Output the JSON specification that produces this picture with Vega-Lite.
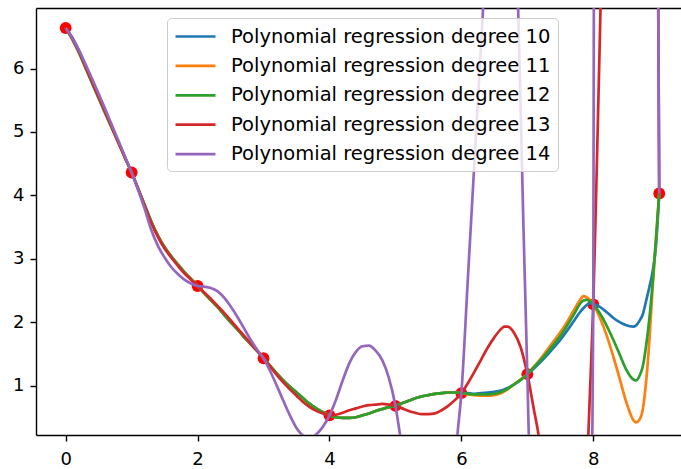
{
"$schema": "https://vega.github.io/schema/vega-lite/v6.json",
"width": 645, "height": 427,
"autosize": "none",
"padding": {"left": 36, "top": 8, "right": 0, "bottom": 34},
"config": {
  "view": {"stroke": null},
  "font": "DejaVu Sans",
  "axis": {"domainColor": "#000", "domainWidth": 1.4, "tickColor": "#000", "tickWidth": 1.4, "labelColor": "#000", "labelFontSize": 18, "grid": false, "title": null, "tickSize": 6, "labelPadding": 6}
},
"datasets": {
"pts": [
{"x":0,"y":6.64},{"x":1,"y":4.36},{"x":2,"y":2.57},{"x":3,"y":1.43},{"x":4,"y":0.53},
{"x":5,"y":0.68},{"x":6,"y":0.88},{"x":7,"y":1.18},{"x":8,"y":2.28},{"x":9,"y":4.03}
],
"curves": [
{"x":0.0,"d10":6.64,"d11":6.64,"d12":6.64,"d13":6.64,"d14":6.64},
{"x":0.1,"d10":6.49,"d11":6.47,"d12":6.46,"d13":6.47,"d14":6.48},
{"x":0.2,"d10":6.29,"d11":6.26,"d12":6.25,"d13":6.27,"d14":6.29},
{"x":0.3,"d10":6.05,"d11":6.02,"d12":6.01,"d13":6.03,"d14":6.07},
{"x":0.4,"d10":5.81,"d11":5.78,"d12":5.77,"d13":5.79,"d14":5.84},
{"x":0.5,"d10":5.56,"d11":5.54,"d12":5.53,"d13":5.55,"d14":5.60},
{"x":0.6,"d10":5.32,"d11":5.30,"d12":5.29,"d13":5.31,"d14":5.36},
{"x":0.7,"d10":5.08,"d11":5.07,"d12":5.06,"d13":5.07,"d14":5.11},
{"x":0.8,"d10":4.84,"d11":4.83,"d12":4.83,"d13":4.83,"d14":4.86},
{"x":0.9,"d10":4.60,"d11":4.59,"d12":4.59,"d13":4.59,"d14":4.61},
{"x":1.0,"d10":4.36,"d11":4.36,"d12":4.36,"d13":4.36,"d14":4.36},
{"x":1.1,"d10":4.10,"d11":4.10,"d12":4.10,"d13":4.10,"d14":4.08},
{"x":1.2,"d10":3.84,"d11":3.84,"d12":3.84,"d13":3.83,"d14":3.78},
{"x":1.3,"d10":3.58,"d11":3.58,"d12":3.58,"d13":3.56,"d14":3.45},
{"x":1.4,"d10":3.36,"d11":3.36,"d12":3.36,"d13":3.34,"d14":3.20},
{"x":1.5,"d10":3.18,"d11":3.18,"d12":3.18,"d13":3.16,"d14":3.02},
{"x":1.6,"d10":3.04,"d11":3.04,"d12":3.04,"d13":3.02,"d14":2.87},
{"x":1.7,"d10":2.91,"d11":2.91,"d12":2.91,"d13":2.89,"d14":2.76},
{"x":1.8,"d10":2.79,"d11":2.79,"d12":2.79,"d13":2.77,"d14":2.67},
{"x":1.9,"d10":2.68,"d11":2.68,"d12":2.68,"d13":2.67,"d14":2.61},
{"x":2.0,"d10":2.57,"d11":2.57,"d12":2.57,"d13":2.57,"d14":2.57},
{"x":2.1,"d10":2.46,"d11":2.46,"d12":2.46,"d13":2.47,"d14":2.56},
{"x":2.2,"d10":2.35,"d11":2.35,"d12":2.35,"d13":2.37,"d14":2.54},
{"x":2.3,"d10":2.24,"d11":2.24,"d12":2.24,"d13":2.26,"d14":2.49},
{"x":2.4,"d10":2.12,"d11":2.12,"d12":2.12,"d13":2.15,"d14":2.39},
{"x":2.5,"d10":2.00,"d11":2.00,"d12":2.00,"d13":2.03,"d14":2.25},
{"x":2.6,"d10":1.89,"d11":1.89,"d12":1.89,"d13":1.91,"d14":2.09},
{"x":2.7,"d10":1.77,"d11":1.77,"d12":1.77,"d13":1.79,"d14":1.91},
{"x":2.8,"d10":1.66,"d11":1.66,"d12":1.66,"d13":1.67,"d14":1.73},
{"x":2.9,"d10":1.55,"d11":1.55,"d12":1.55,"d13":1.55,"d14":1.57},
{"x":3.0,"d10":1.43,"d11":1.43,"d12":1.43,"d13":1.43,"d14":1.43},
{"x":3.1,"d10":1.31,"d11":1.31,"d12":1.31,"d13":1.30,"d14":1.23},
{"x":3.2,"d10":1.19,"d11":1.19,"d12":1.19,"d13":1.17,"d14":1.00},
{"x":3.3,"d10":1.08,"d11":1.08,"d12":1.08,"d13":1.05,"d14":0.76},
{"x":3.4,"d10":0.98,"d11":0.98,"d12":0.98,"d13":0.94,"d14":0.53},
{"x":3.5,"d10":0.89,"d11":0.89,"d12":0.89,"d13":0.84,"d14":0.33},
{"x":3.6,"d10":0.80,"d11":0.80,"d12":0.80,"d13":0.74,"d14":0.21},
{"x":3.7,"d10":0.71,"d11":0.71,"d12":0.71,"d13":0.66,"d14":0.17},
{"x":3.8,"d10":0.64,"d11":0.64,"d12":0.64,"d13":0.60,"d14":0.23},
{"x":3.9,"d10":0.58,"d11":0.58,"d12":0.58,"d13":0.56,"d14":0.35},
{"x":4.0,"d10":0.53,"d11":0.53,"d12":0.53,"d13":0.53,"d14":0.53},
{"x":4.1,"d10":0.50,"d11":0.50,"d12":0.50,"d13":0.54,"d14":0.78},
{"x":4.2,"d10":0.49,"d11":0.49,"d12":0.49,"d13":0.57,"d14":1.08},
{"x":4.3,"d10":0.49,"d11":0.49,"d12":0.49,"d13":0.61,"d14":1.35},
{"x":4.4,"d10":0.50,"d11":0.50,"d12":0.50,"d13":0.64,"d14":1.53},
{"x":4.5,"d10":0.53,"d11":0.53,"d12":0.53,"d13":0.67,"d14":1.62},
{"x":4.6,"d10":0.56,"d11":0.56,"d12":0.56,"d13":0.69,"d14":1.63},
{"x":4.7,"d10":0.60,"d11":0.60,"d12":0.60,"d13":0.70,"d14":1.55},
{"x":4.8,"d10":0.63,"d11":0.63,"d12":0.63,"d13":0.71,"d14":1.40},
{"x":4.9,"d10":0.66,"d11":0.66,"d12":0.66,"d13":0.70,"d14":1.12},
{"x":5.0,"d10":0.68,"d11":0.68,"d12":0.68,"d13":0.68,"d14":0.68},
{"x":5.07,"d14":0.22},
{"x":5.1,"d10":0.72,"d11":0.72,"d12":0.72,"d13":0.64,"d14":0.0},
{"x":5.2,"d10":0.76,"d11":0.76,"d12":0.76,"d13":0.60,"d14":-0.8},
{"x":5.3,"d10":0.80,"d11":0.80,"d12":0.80,"d13":0.57,"d14":-1.6},
{"x":5.4,"d10":0.83,"d11":0.83,"d12":0.83,"d13":0.55,"d14":-2.2},
{"x":5.5,"d10":0.85,"d11":0.85,"d12":0.85,"d13":0.55,"d14":-2.5},
{"x":5.6,"d10":0.87,"d11":0.87,"d12":0.87,"d13":0.56,"d14":-2.4},
{"x":5.7,"d10":0.88,"d11":0.88,"d12":0.88,"d13":0.61,"d14":-1.9},
{"x":5.8,"d10":0.89,"d11":0.89,"d12":0.89,"d13":0.68,"d14":-1.1},
{"x":5.9,"d10":0.89,"d11":0.89,"d12":0.89,"d13":0.77,"d14":-0.3},
{"x":5.94,"d14":0.22},
{"x":6.0,"d10":0.88,"d11":0.88,"d12":0.88,"d13":0.88,"d14":0.88},
{"x":6.1,"d10":0.88,"d11":0.86,"d12":0.87,"d13":1.04,"d14":2.72},
{"x":6.14,"d14":3.46},
{"x":6.2,"d10":0.87,"d11":0.85,"d12":0.86,"d13":1.22,"d14":4.56},
{"x":6.3,"d10":0.88,"d11":0.84,"d12":0.86,"d13":1.41,"d14":6.4},
{"x":6.33,"d14":6.96},
{"x":6.4,"d10":0.89,"d11":0.84,"d12":0.86,"d13":1.60,"d14":8.0},
{"x":6.5,"d10":0.90,"d11":0.85,"d12":0.87,"d13":1.76,"d14":9.3},
{"x":6.6,"d10":0.92,"d11":0.88,"d12":0.90,"d13":1.89,"d14":10},
{"x":6.65,"d13":1.93},
{"x":6.7,"d10":0.96,"d11":0.94,"d12":0.95,"d13":1.93,"d14":9.8},
{"x":6.8,"d10":1.02,"d11":1.02,"d12":1.02,"d13":1.83,"d14":8.7},
{"x":6.86,"d14":6.96},
{"x":6.9,"d10":1.09,"d11":1.10,"d12":1.09,"d13":1.60,"d14":5.3},
{"x":6.94,"d14":3.55},
{"x":7.0,"d10":1.18,"d11":1.18,"d12":1.18,"d13":1.18,"d14":1.18},
{"x":7.02,"d14":0.3},
{"x":7.1,"d10":1.27,"d11":1.30,"d12":1.29,"d13":0.62,"d14":-2.5},
{"x":7.17,"d13":0.22},
{"x":7.2,"d10":1.37,"d11":1.42,"d12":1.40,"d13":0.0,"d14":-5},
{"x":7.3,"d10":1.48,"d11":1.56,"d12":1.52,"d13":-1.0,"d14":-7},
{"x":7.4,"d10":1.60,"d11":1.70,"d12":1.65,"d13":-2.2,"d14":-8},
{"x":7.5,"d10":1.72,"d11":1.84,"d12":1.78,"d13":-3.2,"d14":-8.5},
{"x":7.6,"d10":1.86,"d11":2.00,"d12":1.94,"d13":-3.8,"d14":-8},
{"x":7.7,"d10":2.01,"d11":2.18,"d12":2.11,"d13":-3.6,"d14":-6.5},
{"x":7.8,"d10":2.16,"d11":2.35,"d12":2.29,"d13":-2.6,"d14":-4.5},
{"x":7.85,"d10":2.22,"d11":2.41,"d12":2.34,"d13":-1.7},
{"x":7.9,"d10":2.27,"d11":2.39,"d12":2.35,"d13":-0.6,"d14":-3},
{"x":7.925,"d13":0.22},
{"x":7.95,"d10":2.30,"d11":2.35,"d12":2.33,"d13":0.9,"d14":-1.2},
{"x":7.985,"d14":0.22},
{"x":8.0,"d10":2.29,"d11":2.28,"d12":2.28,"d13":2.28,"d14":2.28},
{"x":8.01,"d14":8},
{"x":8.05,"d13":4.3,"d14":20},
{"x":8.1,"d10":2.24,"d11":2.07,"d12":2.14,"d13":6.5,"d14":30},
{"x":8.11,"d13":6.96},
{"x":8.2,"d10":2.16,"d11":1.80,"d12":1.95,"d13":11,"d14":40},
{"x":8.3,"d10":2.07,"d11":1.47,"d12":1.73,"d13":15,"d14":45},
{"x":8.4,"d10":2.00,"d11":1.11,"d12":1.49,"d13":18,"d14":45},
{"x":8.5,"d10":1.95,"d11":0.74,"d12":1.25,"d13":20,"d14":42},
{"x":8.6,"d10":1.93,"d11":0.47,"d12":1.10,"d13":20,"d14":38},
{"x":8.65,"d10":1.95,"d11":0.42,"d12":1.08},
{"x":8.7,"d10":2.02,"d11":0.46,"d12":1.15,"d13":18,"d14":30},
{"x":8.75,"d10":2.12,"d11":0.62,"d12":1.30},
{"x":8.8,"d10":2.33,"d11":1.05,"d12":1.62,"d13":15,"d14":22},
{"x":8.85,"d10":2.55,"d11":1.70,"d12":2.05},
{"x":8.9,"d10":2.80,"d11":2.55,"d12":2.62,"d13":12,"d14":15},
{"x":8.95,"d10":3.20,"d11":3.30,"d12":3.30,"d13":9,"d14":9.5},
{"x":8.985,"d13":6.96,"d14":6.96},
{"x":9.0,"d10":4.03,"d11":4.03,"d12":4.03,"d13":4.03,"d14":4.03}
]
},
"layer": [
{
  "data": {"name": "pts"},
  "mark": {"type": "circle", "color": "#ff0000", "opacity": 1, "size": 140},
  "encoding": {
    "x": {"field": "x", "type": "quantitative", "scale": {"domain": [-0.45, 9.33], "nice": false, "zero": false}, "axis": {"values": [0, 2, 4, 6, 8], "orient": "bottom", "format": "d", "labelPadding": 9}},
    "y": {"field": "y", "type": "quantitative", "scale": {"domain": [0.22, 6.955], "nice": false, "zero": false}, "axis": {"values": [1, 2, 3, 4, 5, 6], "format": "d"}}
  }
},
{
  "data": {"name": "curves"},
  "transform": [
    {"fold": ["d10", "d11", "d12", "d13", "d14"], "as": ["series", "y"]},
    {"filter": "datum.y != null"}
  ],
  "mark": {"type": "line", "clip": true, "strokeWidth": 2.7, "interpolate": "monotone"},
  "encoding": {
    "x": {"field": "x", "type": "quantitative", "axis": {"orient": "top", "labels": false, "ticks": false, "domain": true}},
    "y": {"field": "y", "type": "quantitative"},
    "color": {
      "field": "series", "type": "nominal",
      "scale": {"domain": ["d10", "d11", "d12", "d13", "d14"], "range": ["#1f77b4", "#ff7f0e", "#2ca02c", "#d62728", "#9467bd"]},
      "legend": {
        "orient": "none", "legendX": 131, "legendY": 10, "title": null,
        "symbolType": "M-1,0H3", "symbolSize": 400, "symbolStrokeWidth": 2.7, "symbolFillColor": "transparent",
        "labelFontSize": 19.5, "labelOffset": 34, "rowPadding": 8.4, "padding": 7,
        "fillColor": "rgba(255,255,255,0.8)", "strokeColor": "#cccccc", "cornerRadius": 4,
        "labelColor": "#000", "labelLimit": 500,
        "labelExpr": "'Polynomial regression degree ' + substring(datum.label, 1)"
      }
    }
  }
}
],
"resolve": {"axis": {"x": "independent"}}
}
